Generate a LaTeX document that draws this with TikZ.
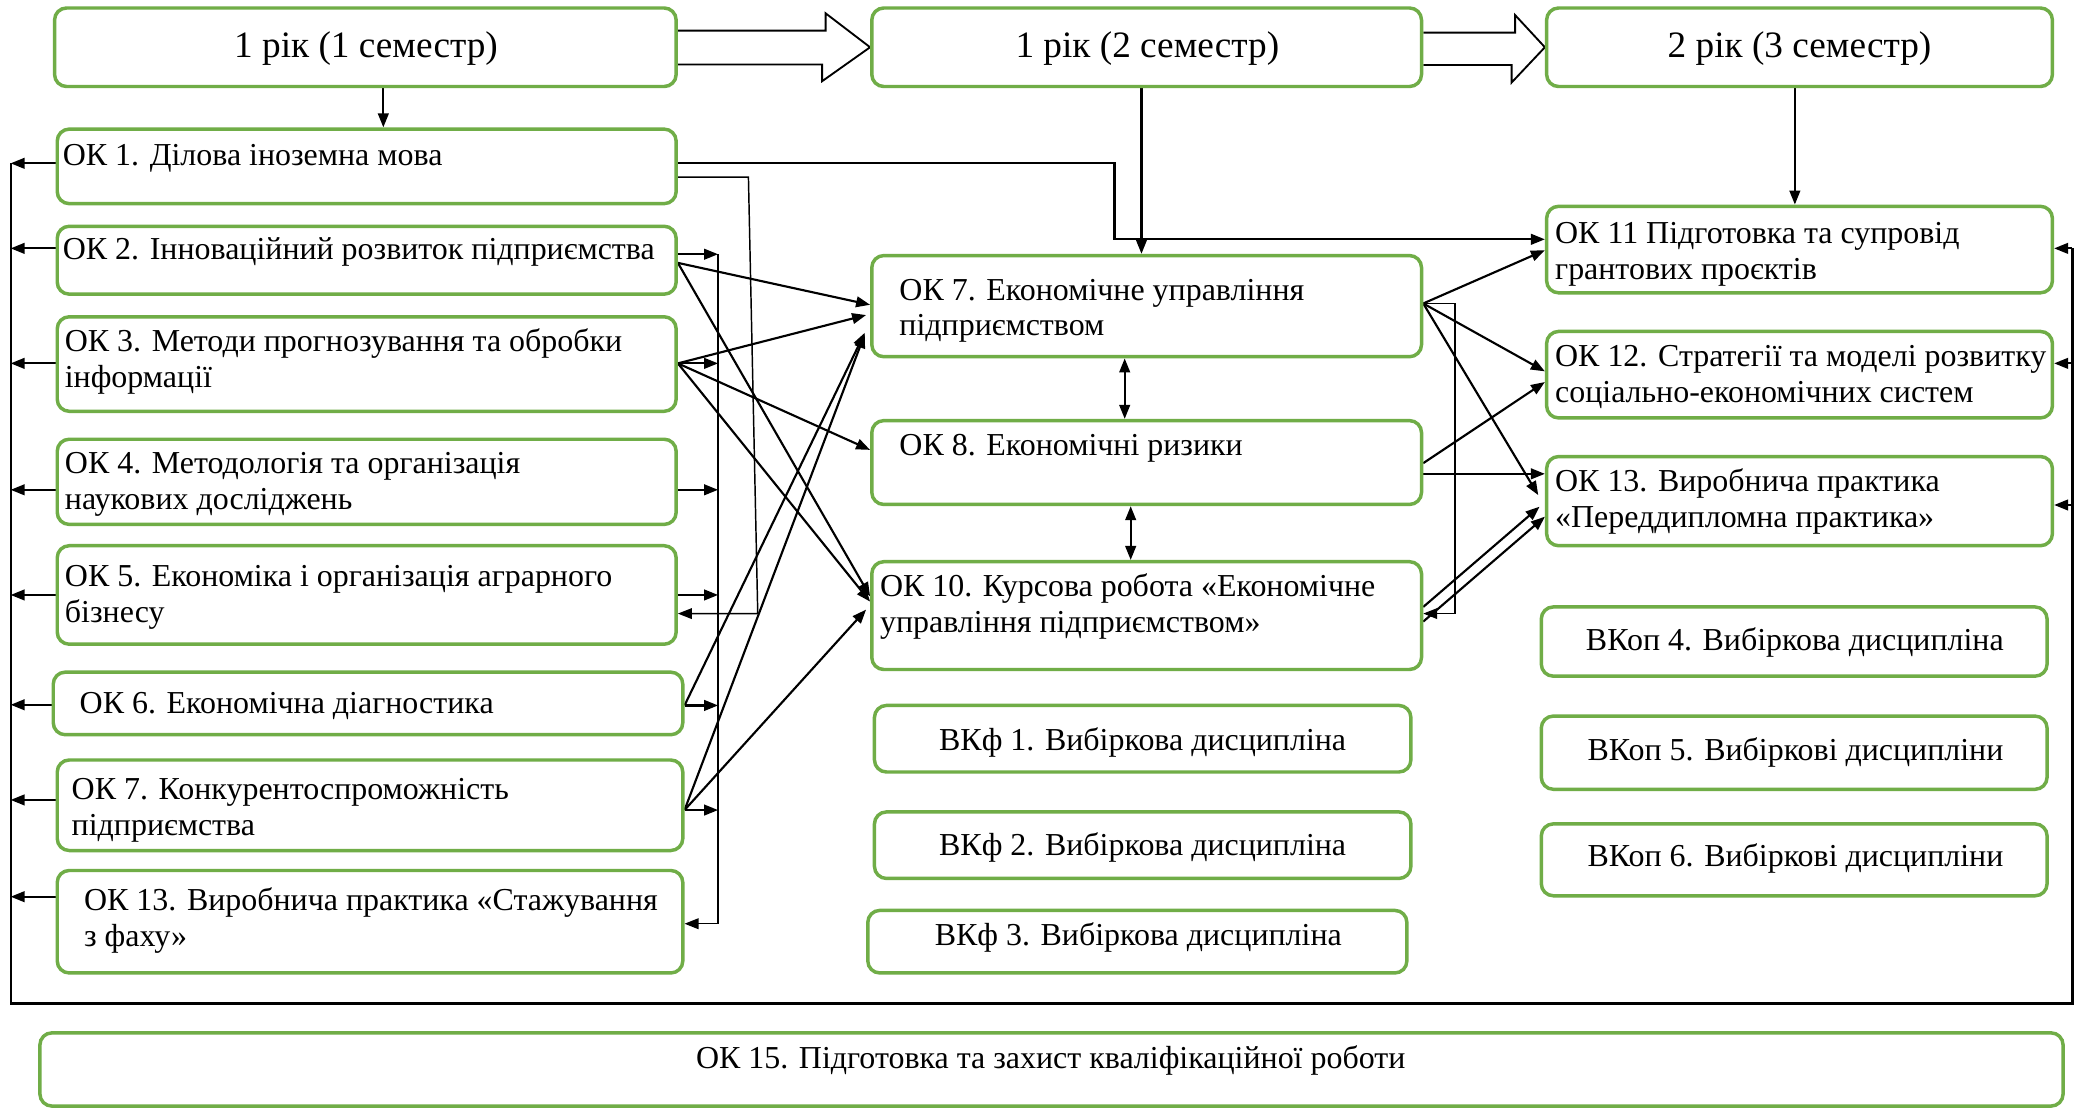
\documentclass[tikz,border=0pt]{standalone}
\usepackage{fontspec}
\setmainfont{Liberation Serif}
\usetikzlibrary{arrows.meta,calc,backgrounds}
\definecolor{okgreen}{HTML}{70AD47}
\newcommand{\TL}[1]{\begin{tabular}[t]{@{}l@{}}#1\end{tabular}}
\newcommand{\gb}[5]{\node[gbox, minimum width={#4-#2}, minimum height={#5-#3}] (#1) at ({(#2+#4)/2},{(#3+#5)/2}) {};}
\tikzset{
  gbox/.style={draw=okgreen, line width=2.6pt, rounded corners=9pt, fill=white, inner sep=0pt},
  txt/.style={inner sep=0pt, font=\fontsize{24}{27}\selectfont, anchor=base west},
  ctxt/.style={inner sep=0pt, font=\fontsize{24}{27}\selectfont, anchor=base},
  htxt/.style={inner sep=0pt, font=\fontsize{28}{32}\selectfont, anchor=base},
  atip/.style={-{Triangle[length=10.5pt,width=8pt]}},
  arr/.style={line width=1.6pt, atip},
  barr/.style={line width=1.6pt, {Triangle[length=10.5pt,width=8pt]}-{Triangle[length=10.5pt,width=8pt]}},
  busline/.style={line width=1.1pt},
  frameline/.style={line width=1.7pt},
  hollow/.style={draw=black, line width=1.4pt, fill=white, line join=miter},
}
\begin{document}
\begin{tikzpicture}[x=1pt,y=-1pt]
\useasboundingbox (0,0) rectangle (1568,833);
% boxes
\gb{h1}{41}{6}{508}{65}
\gb{h2}{655}{6}{1068}{65}
\gb{h3}{1162}{6}{1542}{65}
\gb{ok1}{43}{97}{508}{153}
\gb{ok2}{43}{170}{508}{221}
\gb{ok3}{43}{238}{508}{309}
\gb{ok4}{43}{330}{508}{394}
\gb{ok5}{43}{410}{508}{484}
\gb{ok6}{40}{505}{513}{552}
\gb{ok7b}{43}{571}{513}{639}
\gb{ok13a}{43}{654}{513}{731}
\gb{ok7}{655}{192}{1068}{268}
\gb{ok8}{655}{316}{1068}{379}
\gb{ok10}{655}{422}{1068}{503}
\gb{vkf1}{657}{530}{1060}{580}
\gb{vkf2}{657}{610}{1060}{660}
\gb{vkf3}{652}{684}{1057}{731}
\gb{ok11}{1162}{155}{1542}{220}
\gb{ok12}{1162}{249}{1542}{314}
\gb{ok13}{1162}{343}{1542}{410}
\gb{vkop4}{1158}{456}{1538}{508}
\gb{vkop5}{1158}{538}{1538}{593}
\gb{vkop6}{1158}{619}{1538}{673}
\gb{ok15}{30}{776}{1550}{831}
% texts
\node[htxt] (h1t) at (275,43) {1 рік (1 семестр)};
\node[htxt] (h2t) at (862,43) {1 рік (2 семестр)};
\node[htxt] (h3t) at (1352,43) {2 рік (3 семестр)};
\node[txt] (ok1t) at (47,124) {ОК 1. Ділова іноземна мова};
\node[txt] (ok2t) at (47,195.3) {ОК 2. Інноваційний розвиток підприємства};
\node[txt] (ok3t) at (48.5,264) {\TL{ОК 3. Методи прогнозування та обробки\\інформації}};
\node[txt] (ok4t) at (48.6,356) {\TL{ОК 4. Методологія та організація\\наукових досліджень}};
\node[txt] (ok5t) at (48.6,440.8) {\TL{ОК 5. Економіка і організація аграрного\\бізнесу}};
\node[txt] (ok6t) at (59.7,536) {ОК 6. Економічна діагностика};
\node[txt] (ok7bt) at (53.7,601) {\TL{ОК 7. Конкурентоспроможність\\підприємства}};
\node[txt] (ok13at) at (63,684.2) {\TL{ОК 13. Виробнича практика «Стажування\\з фаху»}};
\node[txt] (ok7t) at (675.6,225.4) {\TL{ОК 7. Економічне управління\\підприємством}};
\node[txt] (ok8t) at (675.6,341.9) {ОК 8. Економічні ризики};
\node[txt] (ok10t) at (661,448.3) {\TL{ОК 10. Курсова робота «Економічне\\управління підприємством»}};
\node[ctxt] (vkf1t) at (858.5,563.5) {ВКф 1. Вибіркова дисципліна};
\node[ctxt] (vkf2t) at (858.5,642.4) {ВКф 2. Вибіркова дисципліна};
\node[ctxt] (vkf3t) at (855.2,710) {ВКф 3. Вибіркова дисципліна};
\node[txt] (ok11t) at (1168.2,182.8) {\TL{ОК 11 Підготовка та супровід\\грантових проєктів}};
\node[txt] (ok12t) at (1168.2,275.5) {\TL{ОК 12. Стратегії та моделі розвитку\\соціально-економічних систем}};
\node[txt] (ok13t) at (1168.2,369) {\TL{ОК 13. Виробнича практика\\«Переддипломна практика»}};
\node[ctxt] (vkop4t) at (1348.5,488.4) {ВКоп 4. Вибіркова дисципліна};
\node[ctxt] (vkop5t) at (1349,571) {ВКоп 5. Вибіркові дисципліни};
\node[ctxt] (vkop6t) at (1349,651.2) {ВКоп 6. Вибіркові дисципліни};
\node[ctxt] (ok15t) at (789.4,802.6) {ОК 15. Підготовка та захист кваліфікаційної роботи};
\coordinate (bus) at (539.5,0);
\coordinate (fl) at (8,0);
\coordinate (fbl) at (8,754);
\coordinate (fbr) at (1557,754);
\begin{pgfonlayer}{background}
\fill[white] (0,0) rectangle (1568,833);
% block arrows
\draw[hollow] ([yshift=12.5pt]h1.east) -- ++(111,0) -- ++(0,-13) -- (h2.west) -- ++(-36,25.5) -- ++(0,-12.5) -- ([yshift=-13pt]h1.east);
\draw[hollow] ([yshift=11pt]h2.east) -- ++(69,0) -- ++(0,-13.2) -- (h3.west) -- ++(-25,26.5) -- ++(0,-13.2) -- ([yshift=-13.3pt]h2.east);
% top arrows
\draw[arr] ([xshift=13.5pt]h1.south) -- ([xshift=13.5pt]h1.south |- ok1.north);
\draw[arr] ([xshift=-3.9pt]h2.south) -- ([xshift=-3.9pt]h2.south |- ok7.north);
\draw[arr] ([xshift=-3.5pt]h3.south) -- ([xshift=-3.5pt]h3.south |- ok11.north);
% OK1 lines
\draw[arr] ([yshift=2.3pt]ok1.east) -- ++(328,0) |- ([yshift=7.7pt]ok11.west);
\draw[busline, atip] ([yshift=-8pt]ok1.east) -- ++(53,0) -- ([xshift=60pt,yshift=-14pt]ok5.east) -- ([yshift=-14pt]ok5.east);
% bus
\foreach \n/\s in {ok2/4.5pt, ok3/0.5pt, ok4/-6pt, ok5/0pt, ok6/-1.5pt, ok7b/-3.6pt}
  \draw[arr] ([yshift=\s]\n.east) -- ([yshift=\s]\n.east -| bus);
\draw[busline, atip] ([yshift=4.5pt]ok2.east -| bus) -- ([yshift=-1.5pt]ok13a.east -| bus) -- ([yshift=-1.5pt]ok13a.east);
% diagonals
\draw[arr] ([yshift=-2pt]ok2.east) -- ([yshift=1pt]ok7.west);
\draw[arr] ([yshift=-2pt]ok2.east) -- ([yshift=14.5pt]ok10.west);
\draw[arr] ([yshift=0.5pt]ok3.east) -- ([xshift=-3pt,yshift=-6.7pt]ok7.west);
\draw[arr] ([yshift=0.5pt]ok3.east) -- ([yshift=9.5pt]ok8.west);
\draw[arr] ([yshift=0.5pt]ok3.east) -- ([yshift=10.5pt]ok10.west);
\draw[arr] ([yshift=-1.5pt]ok6.east) -- ([xshift=-4pt,yshift=-20pt]ok7.west);
\draw[arr] ([yshift=-3.6pt]ok7b.east) -- ([xshift=-4pt,yshift=-21pt]ok7.west);
\draw[arr] ([yshift=-3.6pt]ok7b.east) -- ([xshift=-3pt,yshift=4.5pt]ok10.west);
% double arrows
\draw[barr] ([xshift=-16.5pt]ok7.south) -- ([xshift=-16.5pt]ok7.south |- ok8.north);
\draw[barr] ([xshift=-12pt]ok8.south) -- ([xshift=-12pt]ok8.south |- ok10.north);
% right side
\draw[arr] ([yshift=2pt]ok7.east) -- ([yshift=-0.5pt]ok11.west);
\draw[arr] ([yshift=2pt]ok7.east) -- ([yshift=2.5pt]ok12.west);
\draw[arr] ([yshift=2pt]ok7.east) -- ([xshift=-5pt,yshift=4.5pt]ok13.west);
\draw[busline, atip] ([yshift=2pt]ok7.east) -- ++(24,0) |- ([yshift=1.5pt]ok10.east);
\draw[arr] ([yshift=-0.5pt]ok8.east) -- ([yshift=-5.5pt]ok12.west);
\draw[arr] ([yshift=-8.5pt]ok8.east) -- ([yshift=-8.5pt]ok8.east -| ok13.west);
\draw[arr] ([yshift=6.5pt]ok10.east) -- ([xshift=-4pt,yshift=-4.2pt]ok13.west);
\draw[arr] ([yshift=-4.5pt]ok10.east) -- ([yshift=-11.7pt]ok13.west);
% frame
\draw[frameline] ([yshift=2.3pt]ok1.west -| fl) -- (fbl) -- (fbr) -- ([yshift=0.9pt]ok11.east -| fbr);
\foreach \n/\s in {ok1/2.3pt, ok2/8.9pt, ok3/0.5pt, ok4/-6pt, ok5/0pt, ok6/-1pt, ok7b/4pt, ok13a/18.8pt}
  \draw[arr] ([yshift=\s]\n.west) -- ([yshift=\s]\n.west -| fl);
\foreach \n/\s in {ok11/0.9pt, ok12/8.5pt, ok13/-2.9pt}
  \draw[arr] ([yshift=\s]\n.east -| fbr) -- ([yshift=\s]\n.east);
\end{pgfonlayer}
\end{tikzpicture}
\end{document}
